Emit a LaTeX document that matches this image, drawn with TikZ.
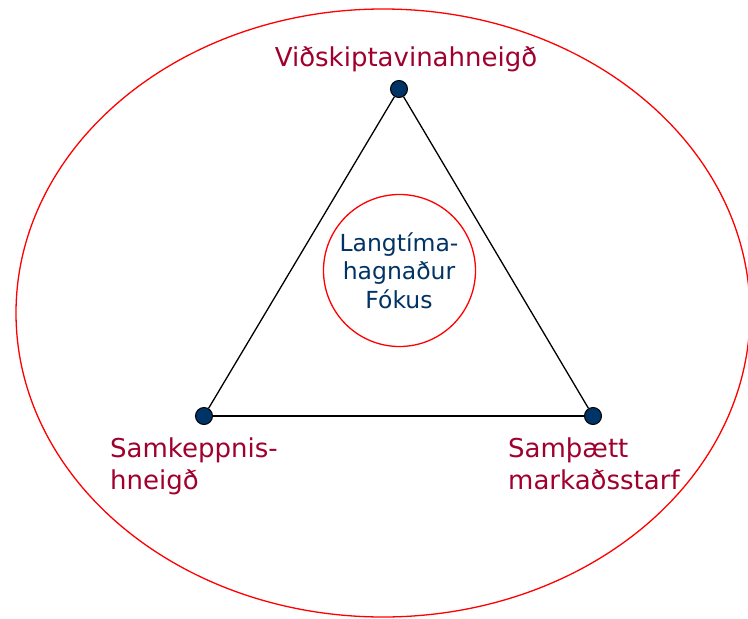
\documentclass[tikz,border=0pt]{standalone}
\usepackage{fontspec}
\setmainfont{DejaVu Sans}
\definecolor{labelred}{RGB}{160,0,45}
\definecolor{navy}{RGB}{0,51,102}
\definecolor{ringred}{RGB}{255,0,0}
\tikzset{
  ring/.style={draw=ringred, line width=1.3pt},
  side/.style={draw=black, line width=1.3pt},
  dot/.style={circle, draw=black, line width=1pt, fill=navy, minimum size=17pt, inner sep=0pt},
  outerlabel/.style={text=labelred, font=\fontsize{26}{32}\selectfont, inner sep=0pt, align=left},
  innerlabel/.style={text=navy, font=\fontsize{23.5}{28.5}\selectfont, inner sep=0pt, align=center},
}
\begin{document}
\begin{tikzpicture}[x=1pt, y=-1pt]
\useasboundingbox (0,0) rectangle (748,619);
\fill[white] (0,0) rectangle (748,619);
% outer ellipse
\draw[ring] (383,313) ellipse [x radius=367, y radius=304];
% inner circle
\node[ring, circle, minimum size=152pt, inner sep=0pt] (focus) at (399.5,270.5) {};
% corner dots
\node[dot] (top) at (399,89) {};
\node[dot] (left) at (204,416) {};
\node[dot] (right) at (593,416) {};
% triangle
\draw[side] (top) -- (left);
\draw[side] (left) -- (right);
\draw[side] (right) -- (top);
% labels
\node[outerlabel, anchor=base] (ltop) at (406,66) {Viðskiptavinahneigð};
\node[outerlabel, anchor=base west] (lleft) at (110,489) {Samkeppnis-\\hneigð};
\node[outerlabel, anchor=base west] (lright) at (508,489) {Samþætt\\markaðsstarf};
\node[innerlabel, anchor=base] (lcenter) at (399,308) {Langtíma-\\hagnaður\\Fókus};
\end{tikzpicture}
\end{document}
